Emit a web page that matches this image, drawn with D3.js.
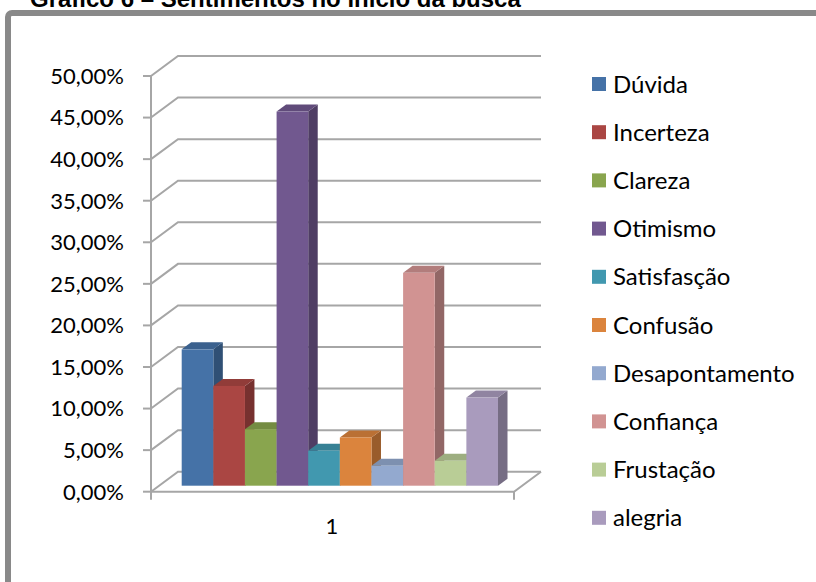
<!DOCTYPE html>
<html><head><meta charset="utf-8">
<script src="https://cdn.jsdelivr.net/npm/d3@7"></script>
<style>html,body{margin:0;padding:0;background:#fff;overflow:hidden}svg{display:block}</style>
</head><body>
<svg id="chart" width="816" height="582"></svg>
<script>
// Sentiment shares at the start of the search (single category "1")
const titleText = "Gráfico 6 – Sentimentos no início da busca";
const categories = ["1"];
const sentimentos = ["Dúvida","Incerteza","Clareza","Otimismo","Satisfasção","Confusão","Desapontamento","Confiança","Frustação","alegria"];
const percentuais = [0.164, 0.12, 0.068, 0.45, 0.042, 0.058, 0.024, 0.256, 0.03, 0.106];
const cores = ["#4572A7","#AA4643","#89A54E","#71588F","#4198AF","#DB843D","#93A9CF","#D19392","#B9CD96","#A99BBD"];
const yTicks = [0, 0.05, 0.10, 0.15, 0.20, 0.25, 0.30, 0.35, 0.40, 0.45, 0.50];

const svg = d3.select("#chart");
const locale = d3.formatLocale({decimal: ",", thousands: ".", grouping: [3], currency: ["R$", ""]});
const pct = locale.format(".2%");

// oblique 3D projection: depth goes right and up
const wall = {dx: 27, dy: -20};
const barFront = {dx: 8.1, dy: -6};
const barDepth = {dx: 9.5, dy: -7};

const y = d3.scaleLinear().domain([0, 0.5]).range([491.7, 76]);
const xCat = d3.scaleBand().domain(categories).range([151, 514]);
const xBar = d3.scaleBand().domain(sentimentos)
  .range([xCat(categories[0]) + 22.6, xCat(categories[0]) + 22.6 + 316.3]).padding(0);

// outer frame
svg.append("rect").attr("x", 8).attr("y", 13).attr("width", 900).attr("height", 700)
  .attr("rx", 4).attr("fill", "none").attr("stroke", "#898989").attr("stroke-width", 6);

// title (runs off the top edge)
svg.append("text").attr("x", 30).attr("y", 7)
  .attr("font-family", "Liberation Sans, Arial, sans-serif").attr("font-weight", "bold")
  .attr("font-size", 24).attr("fill", "#000").text(titleText);

const grid = svg.append("g").attr("stroke", "#a6a6a6").attr("stroke-width", 2).attr("fill", "none");
const x0 = xCat.range()[0], x1 = xCat.range()[1];

// walls: side-wall diagonals and back-wall gridlines
yTicks.forEach(t => {
  const yy = y(t);
  grid.append("path").attr("d",
    `M${x0},${yy}L${x0 + wall.dx},${yy + wall.dy}L${x1 + wall.dx},${yy + wall.dy}`);
  grid.append("line").attr("x1", x0 - 8).attr("x2", x0).attr("y1", yy).attr("y2", yy);
});
// floor front edge, right edge, axis line and category ticks
grid.append("path").attr("d",
  `M${x0},${y(0)}L${x1},${y(0)}L${x1 + wall.dx},${y(0) + wall.dy}`);
grid.append("line").attr("x1", x0).attr("x2", x0).attr("y1", y(0.5)).attr("y2", y(0) + 8);
grid.append("line").attr("x1", x1).attr("x2", x1).attr("y1", y(0)).attr("y2", y(0) + 8);

// y tick labels
svg.append("g").selectAll("text").data(yTicks).join("text")
  .attr("x", 124).attr("y", d => y(d)).attr("dy", "0.36em")
  .attr("text-anchor", "end").attr("font-family", "Lato, sans-serif").attr("font-size", 22)
  .attr("fill", "#000").text(d => pct(d));

// category label
svg.append("text").attr("x", xCat(categories[0]) + xCat.bandwidth() / 2 - 0.5).attr("y", 534)
  .attr("text-anchor", "middle").attr("font-family", "Lato, sans-serif").attr("font-size", 22)
  .attr("fill", "#000").text(categories[0]);

// 3D bars, drawn left to right
const shade = (c, k) => d3.interpolateRgb(c, "#000")(k);
const bars = svg.append("g");
sentimentos.forEach((s, i) => {
  const v = percentuais[i];
  const bx = xBar(s) + barFront.dx, bw = xBar.bandwidth();
  const yb = y(0) + barFront.dy, yt = y(v) + barFront.dy;
  const g = bars.append("g");
  g.append("path").attr("fill", shade(cores[i], 0.3)).attr("d",
    `M${bx + bw},${yb}L${bx + bw + barDepth.dx},${yb + barDepth.dy}L${bx + bw + barDepth.dx},${yt + barDepth.dy}L${bx + bw},${yt}Z`);
  g.append("path").attr("fill", shade(cores[i], 0.15)).attr("d",
    `M${bx},${yt}L${bx + barDepth.dx},${yt + barDepth.dy}L${bx + bw + barDepth.dx},${yt + barDepth.dy}L${bx + bw},${yt}Z`);
  g.append("rect").attr("x", bx).attr("y", yt).attr("width", bw).attr("height", yb - yt)
    .attr("fill", cores[i]);
});

// legend
const legend = svg.append("g").attr("transform", "translate(592,84)");
const rows = legend.selectAll("g").data(sentimentos).join("g")
  .attr("transform", (d, i) => `translate(0,${i * 48.2})`);
rows.append("rect").attr("x", 0).attr("y", -7).attr("width", 14).attr("height", 14)
  .attr("fill", (d, i) => cores[i]);
rows.append("text").attr("x", 21).attr("y", 0).attr("dy", "0.36em")
  .attr("font-family", "Lato, sans-serif").attr("font-size", 24).attr("fill", "#000").text(d => d);
</script>
</body></html>
